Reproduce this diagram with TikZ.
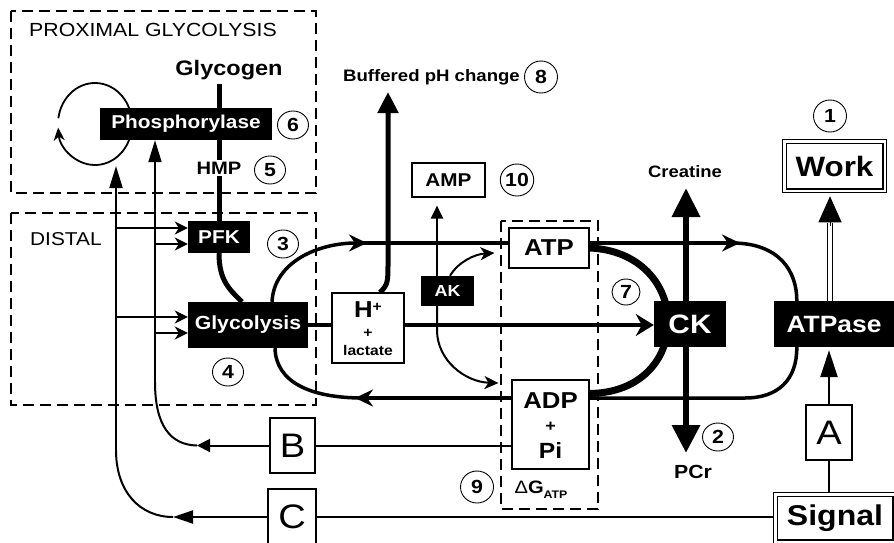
\documentclass[tikz,border=0pt]{standalone}
\usepackage{fontspec}
\setmainfont{Liberation Sans}[FakeStretch=1.12]
\usetikzlibrary{arrows.meta,shapes.geometric,backgrounds,calc}
\newcommand\myfs[1]{\fontsize{#1}{#1}\selectfont}
\begin{document}
\begin{tikzpicture}[x=1pt,y=-1pt,
  blk/.style={fill=black,text=white,inner sep=0pt},
  wbx/.style={draw,line width=1.1pt,fill=white,inner sep=0pt},
  dbl/.style={draw,double,double distance=2.4pt,line width=1.1pt,fill=white,inner sep=0pt},
  num/.style={ellipse,draw,line width=0.9pt,inner sep=0pt,minimum width=31pt,minimum height=28pt,font=\bfseries\myfs{19}},
  bignum/.style={num,minimum width=33pt,minimum height=32pt},
  dashbox/.style={draw,line width=1.4pt,dash pattern=on 11pt off 6pt},
  thinl/.style={line width=2pt},
  loopl/.style={line width=3.5pt},
  thickl/.style={line width=5pt},
  stl/.style={-{Stealth[length=18pt,width=17pt,inset=6pt]}},
]
\useasboundingbox (0,0) rectangle (894,543);

% ---- labels
\node[anchor=west,inner sep=0pt,font=\myfs{19}] (prox) at (29,30) {PROXIMAL GLYCOLYSIS};
\node[anchor=west,inner sep=0pt,font=\myfs{18.6}] (distal) at (30,239) {DISTAL};
\node[inner sep=0pt,font=\bfseries\myfs{21}] (glycogen) at (229,70) {Glycogen};
\node[inner sep=1.5pt,fill=white,font=\bfseries\myfs{18}] (hmp) at (219,168) {HMP};
\node[inner sep=0pt,font=\bfseries\myfs{16.6}] (buffered) at (431.5,77) {Buffered pH change};
\node[inner sep=0pt,font=\bfseries\myfs{16.5}] (creatine) at (685,172) {Creatine};
\node[inner sep=0pt,font=\bfseries\myfs{19}] (pcr) at (693,472) {PCr};
\node[inner sep=0pt] (dg) at (541,490) {{\myfs{18}Δ\textbf{G}}\raisebox{-5pt}{\bfseries\myfs{11}ATP}};

% ---- black enzyme boxes
\node[blk,minimum width=172pt,minimum height=32pt,font=\bfseries\myfs{18.6}] (phos) at (186,124) {Phosphorylase};
\node[blk,minimum width=62pt,minimum height=32pt,font=\bfseries\myfs{18.6}] (pfk) at (219,237) {PFK};
\node[blk,minimum width=120pt,minimum height=46pt,font=\bfseries\myfs{19}] (glyco) at (248,325) {Glycolysis};
\node[blk,minimum width=53pt,minimum height=30pt,font=\bfseries\myfs{16}] (ak) at (447.5,291) {AK};
\node[blk,minimum width=72pt,minimum height=46pt,font=\bfseries\myfs{26.6}] (ck) at (690,324) {CK};
\node[blk,minimum width=120pt,minimum height=46pt,font=\bfseries\myfs{23.6}] (atpase) at (834,324) {ATPase};

% ---- white boxes
\node[wbx,minimum width=73pt,minimum height=34pt,font=\bfseries\myfs{18.5}] (amp) at (448.5,180) {AMP};
\node[wbx,minimum width=80pt,minimum height=40pt,font=\bfseries\myfs{23}] (atp) at (549,248) {ATP};
\node[wbx,minimum width=77pt,minimum height=89pt] (adp) at (550.5,424.5) {};
\node[inner sep=0pt,font=\bfseries\myfs{23}] (adpt) at (550.5,401) {ADP};
\node[inner sep=0pt,font=\bfseries\myfs{16}] (adpplus) at (550.5,427) {+};
\node[inner sep=0pt,font=\bfseries\myfs{22}] (adppi) at (550.5,451) {Pi};
\node[wbx,minimum width=72pt,minimum height=70pt] (hplus) at (368,328) {};
\node[inner sep=0pt,font=\bfseries\myfs{23}] (ht) at (368,310) {H\raisebox{6pt}{\myfs{14}+}};
\node[inner sep=0pt,font=\bfseries\myfs{14}] (hpl) at (368,333) {+};
\node[inner sep=0pt,font=\bfseries\myfs{14}] (lac) at (368,350) {lactate};
\node[wbx,minimum width=46pt,minimum height=55pt,font=\myfs{34}] (A) at (829,432.5) {A};
\node[wbx,minimum width=45pt,minimum height=55pt,font=\myfs{34}] (B) at (292.5,445.5) {B};
\node[wbx,minimum width=48pt,minimum height=56pt,font=\myfs{34}] (C) at (292,517) {C};
\node[dbl,minimum width=100.4pt,minimum height=49.4pt,font=\bfseries\myfs{28}] (work) at (834.5,166) {Work};
\node[dbl,minimum width=119.4pt,minimum height=47.4pt,font=\bfseries\myfs{28.6}] (signal) at (835,518) {Signal};

% ---- numbers
\node[bignum] (n1) at (830,116) {1};
\node[num] (n2) at (718,437) {2};
\node[num] (n3) at (283,244) {3};
\node[num] (n4) at (228,372) {4};
\node[num] (n5) at (270,170) {5};
\node[num] (n6) at (293,125) {6};
\node[num,minimum width=28pt,minimum height=26pt] (n7) at (626,292) {7};
\node[bignum] (n8) at (541,77) {8};
\node[bignum] (n9) at (477,487) {9};
\node[bignum] (n10) at (517,180) {10};

% ---- coordinates
\coordinate (loopc) at (95,124);
\coordinate (gtop) at (219,84);
\coordinate (lt) at (367,243);
\coordinate (rt) at (740,243);
\coordinate (lb) at (355,398);
\coordinate (rb) at (745,398);
\coordinate (phk) at (388,262);
\coordinate (phtip) at (388,92);
\coordinate (crt) at (686,188);
\coordinate (pct) at (686,453);
\coordinate (c1) at (116,228);
\coordinate (c2) at (116,317);
\coordinate (b1) at (155,244);
\coordinate (b2) at (155,333);
\coordinate (cknee) at (116,450);
\coordinate (cloop) at (116,166);
\coordinate (ctip) at (173,517);
\coordinate (bknee) at (155,382);
\coordinate (btip) at (197,445.5);
\coordinate (wl) at (827.5,223);
\coordinate (wr) at (832.5,223);
\coordinate (wb) at (830,226);

\begin{scope}[on background layer]
  \draw[dashbox] (11,11) rectangle (316,193);
  \draw[dashbox] (11,213) rectangle (316,405);
  \draw[dashbox] (501,221) rectangle (598,509);

  % self loop
  \draw[line width=1.8pt,-{Stealth[length=13pt,width=11pt,inset=4pt]}]
    (loopc) ++(188:37 and 41) arc[start angle=188,end angle=535,x radius=37,y radius=41];

  % glycogen -> PFK -> glycolysis
  \draw[thickl] (gtop) -- (pfk.north);
  \draw[thickl] (pfk.south) .. controls +(0,28) and +(-12,-12) .. ([xshift=-6pt]glyco.north);

  % big loop
  \draw[loopl,stl] ([xshift=24pt]glyco.north) .. controls (274,262) and (318,243) .. (lt);
  \draw[loopl] ([xshift=-8pt]lt) -- (atp.west |- lt);
  \draw[loopl,stl] (atp.east |- lt) -- (rt);
  \draw[loopl] ([xshift=-8pt]rt) .. controls (780,243) and (797,272) .. ([xshift=23pt]atpase.north west);
  \draw[loopl] ([xshift=23pt]atpase.south west) .. controls (797,380) and (778,398) .. (rb) -- (adp.east |- rb);
  \draw[loopl,stl] (adp.west |- rb) -- (lb);
  \draw[loopl] ([xshift=8pt]lb) .. controls (310,398) and (276,382) .. ([xshift=27pt]glyco.south);

  % CK thick arc
  \draw[line width=7pt] (atp.east) .. controls (640,250) and (668,285) .. (668,322)
     .. controls (668,360) and (640,393) .. ([yshift=31pt]adp.east);

  % main line
  \draw[line width=4.5pt] (glyco.east) -- (glyco.east -| hplus.west);
  \draw[line width=4.5pt,-{Stealth[length=18pt,width=22pt,inset=6pt]}] (glyco.east -| hplus.east) -- (glyco.east -| ck.west);

  % buffered pH
  \draw[thickl,-{Triangle[length=21pt,width=20pt]}] ([xshift=12pt]hplus.north) .. controls +(8,-8) and +(0,20) .. (phk) -- (phtip);

  % AK
  \draw[thinl,-{Triangle[length=13pt,width=12pt]},shorten >=8pt] ([xshift=-10.5pt]ak.north) -- ([xshift=-10.5pt]ak.north |- amp.south);
  \draw[thinl,-{Stealth[length=14pt,width=13pt,inset=4pt]}] ([xshift=2.5pt]ak.north) .. controls (458,262) and (475,254) .. ([xshift=-14pt,yshift=-5pt]atp.west);
  \draw[thinl,-{Stealth[length=14pt,width=13pt,inset=4pt]}] ([xshift=-10.5pt]ak.south) -- ++(0,24) .. controls +(0,30) and (465,382) .. ([xshift=-13pt,yshift=41.5pt]adp.west);

  % CK vertical
  \draw[line width=6.5pt,{Triangle[length=28pt,width=27pt]}-{Triangle[length=29pt,width=27pt]}] (pct) -- (crt);

  % C line
  \draw[thinl,-{Triangle[length=20pt,width=13pt]}] (C.west) -- (ctip);
  \draw[thinl] (ctip) .. controls (140,517) and (116,492) .. (cknee);
  \draw[thinl,-{Triangle[length=22pt,width=13pt]}] (cknee) -- (cloop);
  \draw[thinl,-{Stealth[length=13pt,width=13pt,inset=4pt]}] (c1) -- (c1 -| pfk.west);
  \draw[thinl,-{Stealth[length=13pt,width=13pt,inset=4pt]}] (c2) -- (c2 -| glyco.west);
  \draw[thinl] (C.east) -- (C.east -| signal.west);

  % B line
  \draw[thinl,-{Triangle[length=13pt,width=13pt]}] (B.west) -- (btip);
  \draw[thinl] (btip) .. controls (170,445) and (155,425) .. (bknee);
  \draw[thinl,-{Triangle[length=22pt,width=13pt]}] (bknee) -- (bknee |- phos.south);
  \draw[thinl,-{Stealth[length=13pt,width=13pt,inset=4pt]}] (b1) -- (b1 -| pfk.west);
  \draw[thinl,-{Stealth[length=13pt,width=13pt,inset=4pt]}] (b2) -- (b2 -| glyco.west);
  \draw[thinl] (B.east) -- (B.east -| adp.west);

  % A / signal / work
  \draw[line width=2.5pt,-{Triangle[length=27pt,width=17pt]},shorten >=3pt] (A.north) -- (A.north |- atpase.south);
  \draw[line width=2.5pt] (A.south) -- (A.south |- signal.north);
  \draw[line width=1.3pt] (wl |- atpase.north) -- (wl);
  \draw[line width=1.3pt] (wr |- atpase.north) -- (wr);
  \draw[line width=1pt,-{Triangle[length=26pt,width=23pt]},shorten >=5pt] (wb) -- (wb |- work.south);
\end{scope}
\end{tikzpicture}
\end{document}
